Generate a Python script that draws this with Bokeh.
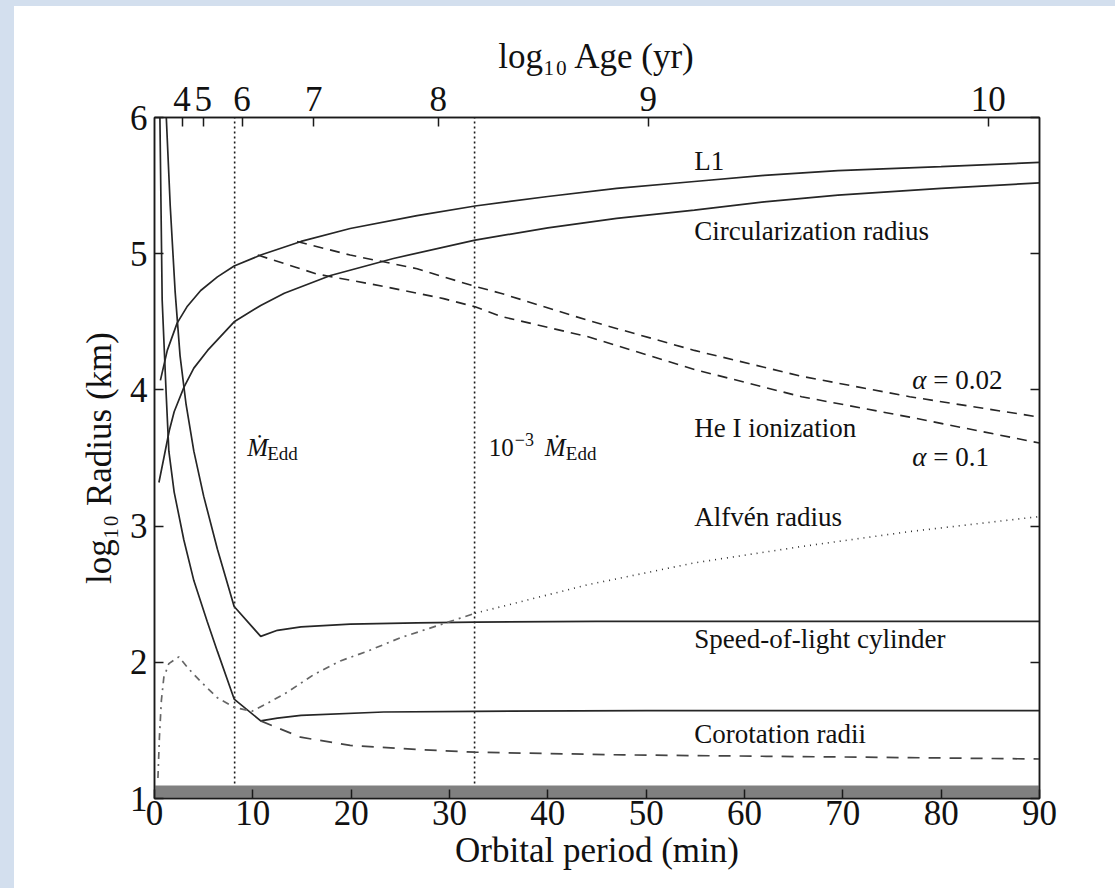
from bokeh.plotting import figure
from bokeh.models import LinearAxis, Range1d, FixedTicker, Label
from bokeh.embed import file_html
from bokeh.resources import INLINE

# ---------------- data ----------------
period_ticks = [0, 10, 20, 30, 40, 50, 60, 70, 80, 90]
radius_ticks = [1, 2, 3, 4, 5, 6]
age_tick_period = [2.8, 4.95, 8.9, 16.2, 28.85, 50.2, 84.8]
age_tick_labels = ["4", "5", "6", "7", "8", "9", "10"]

l1_period = [0.6, 1.3, 2.3, 3.3, 4.7, 6.4, 8.1, 10.8, 14.9, 19.9, 26.7, 32.6, 40.0, 47.0, 54.9, 62.0, 69.5, 80.0, 90.0]
l1_radius = [4.07, 4.29, 4.49, 4.61, 4.73, 4.83, 4.91, 4.99, 5.09, 5.185, 5.28, 5.35, 5.42, 5.48, 5.53, 5.575, 5.61, 5.64, 5.67]

circ_period = [0.45, 0.95, 1.5, 2.0, 3.0, 4.0, 5.4, 8.1, 10.8, 13.2, 17.9, 24.3, 32.6, 40.0, 47.0, 54.9, 62.0, 69.5, 80.0, 90.0]
circ_radius = [3.32, 3.50, 3.70, 3.84, 4.02, 4.16, 4.29, 4.50, 4.62, 4.71, 4.84, 4.965, 5.10, 5.19, 5.26, 5.32, 5.38, 5.43, 5.48, 5.52]

he_a002_period = [14.5, 19.9, 26.7, 29.4, 32.6, 35.2, 44.1, 54.9, 65.8, 76.8, 90.0]
he_a002_radius = [5.09, 4.99, 4.89, 4.83, 4.76, 4.71, 4.51, 4.29, 4.10, 3.95, 3.80]

he_a01_period = [10.5, 16.55, 23.3, 29.4, 32.6, 35.2, 44.1, 54.9, 65.8, 76.8, 90.0]
he_a01_radius = [4.99, 4.85, 4.76, 4.67, 4.61, 4.54, 4.39, 4.15, 3.95, 3.80, 3.61]

lc_period = [1.2, 1.6, 2.1, 2.6, 3.2, 4.0, 5.0, 6.4, 8.1, 10.8, 12.5, 14.9, 19.9, 26.7, 32.6, 45.0, 60.0, 75.0, 90.0]
lc_radius = [6.0, 5.35, 4.72, 4.25, 3.90, 3.55, 3.22, 2.83, 2.41, 2.19, 2.235, 2.26, 2.28, 2.29, 2.295, 2.30, 2.30, 2.30, 2.30]

co_period = [0.55, 0.78, 0.95, 1.2, 1.46, 2.0, 2.98, 4.0, 5.36, 6.4, 8.1, 10.8, 12.5, 14.9, 23.3, 32.6, 50.0, 70.0, 90.0]
co_radius = [6.0, 4.66, 4.37, 3.95, 3.55, 3.25, 2.90, 2.60, 2.30, 2.08, 1.73, 1.57, 1.59, 1.61, 1.635, 1.64, 1.645, 1.645, 1.645]

co2_period = [10.8, 14.85, 19.9, 26.7, 32.6, 47.7, 62.2, 76.8, 90.0]
co2_radius = [1.57, 1.45, 1.39, 1.36, 1.34, 1.32, 1.31, 1.30, 1.29]

alf_early_period = [0.35, 0.5, 0.7, 0.95, 1.46, 2.47, 3.5, 4.68, 6.38, 8.1, 9.9, 11.5, 13.5, 16.2, 18.9, 21.6, 25.0, 28.4, 32.6]
alf_early_radius = [1.15, 1.45, 1.72, 1.89, 1.99, 2.04, 1.95, 1.86, 1.74, 1.67, 1.64, 1.70, 1.78, 1.91, 2.01, 2.08, 2.18, 2.26, 2.36]

alf_late_period = [32.6, 44.1, 54.9, 65.8, 76.8, 90.0]
alf_late_radius = [2.36, 2.57, 2.73, 2.85, 2.96, 3.07]

mdot_period = [8.15, 32.55]
band_left, band_right, band_bottom, band_top = [0], [90], [1.0], [1.095]

SERIF = "Liberation Serif"
INK = "#1a1a1a"

p = figure(width=1115, height=888, x_range=Range1d(0, 90), y_range=Range1d(1, 6),
           output_backend="svg", toolbar_location=None,
           min_border_left=154, min_border_right=76, min_border_top=117, min_border_bottom=90)
p.grid.visible = False
p.background_fill_color = "white"
p.border_fill_alpha = 0.0  # let the page-edge shading below show through
p.outline_line_color = INK
p.outline_line_width = 1.5
p.styles = {
    "background-color": "#ffffff",
    "box-shadow": "inset 14px 6px 0px 0px #d3dfee",
    "overflow": "hidden",
}


def style_axis(ax, size="35px"):
    ax.major_tick_in = 9
    ax.major_tick_out = 0
    ax.minor_tick_line_color = None
    ax.axis_line_color = INK
    ax.axis_line_width = 1.5
    ax.major_tick_line_color = INK
    ax.major_tick_line_width = 1.5
    ax.major_label_text_font = SERIF
    ax.major_label_text_font_size = size
    ax.major_label_text_color = "#111111"
    ax.axis_label_text_font = SERIF
    ax.axis_label_text_font_size = "35px"
    ax.axis_label_text_font_style = "normal"
    ax.axis_label_text_color = "#111111"


xa = p.xaxis[0]
xa.ticker = FixedTicker(ticks=period_ticks)
xa.axis_label = "Orbital period (min)"
style_axis(xa)
xa.major_label_standoff = 2
xa.axis_label_standoff = 3

ya = p.yaxis[0]
ya.ticker = FixedTicker(ticks=radius_ticks)
ya.axis_label = "log₁₀ Radius (km)"
style_axis(ya)
ya.major_label_standoff = 7
ya.axis_label_standoff = 8

ra = LinearAxis(ticker=FixedTicker(ticks=radius_ticks))
style_axis(ra)
ra.major_label_text_color = None
p.add_layout(ra, "right")

ta = LinearAxis(ticker=FixedTicker(ticks=age_tick_period),
                major_label_overrides={float(k): v for k, v in zip(age_tick_period, age_tick_labels)},
                axis_label="log₁₀ Age (yr)")
style_axis(ta)
ta.major_label_standoff = 7
ta.axis_label_standoff = 8
p.add_layout(ta, "above")

# vertical accretion-rate markers
p.segment(x0=mdot_period, y0=[1, 1], x1=mdot_period, y1=[6, 6],
          line_color=INK, line_width=1.6, line_dash="2 3")

# curves
solid = dict(line_color="#262626", line_width=1.7)
p.line(l1_period, l1_radius, **solid)
p.line(circ_period, circ_radius, **solid)
p.line(lc_period, lc_radius, **solid)
p.line(co_period, co_radius, **solid)
p.line(he_a002_period, he_a002_radius, line_color="#262626", line_width=1.6, line_dash="10 7")
p.line(he_a01_period, he_a01_radius, line_color="#262626", line_width=1.6, line_dash="10 7")
p.line(co2_period, co2_radius, line_color="#444444", line_width=1.7, line_dash="12 9")
p.line(alf_early_period, alf_early_radius, line_color="#666666", line_width=1.7, line_dash="7 5 2 5")
p.line(alf_late_period, alf_late_radius, line_color="#2e2e2e", line_width=1.6, line_dash="1 5")

# grey band at the bottom
p.quad(left=band_left, right=band_right, bottom=band_bottom, top=band_top,
       fill_color="#808080", line_color=None)

# text annotations


def lab(x, y, text, size="27px", style="normal", xo=0, yo=0):
    p.add_layout(Label(x=x, y=y, text=text, x_offset=xo, y_offset=yo,
                       text_font=SERIF, text_font_size=size, text_font_style=style,
                       text_color="#111111", text_baseline="middle", text_align="left"))


lab(54.9, 5.68, "L1")
lab(54.9, 5.17, "Circularization radius")
lab(77.05, 4.07, "α", style="italic")
lab(77.05, 4.07, "= 0.02", xo=21)
lab(54.9, 3.72, "He I ionization")
lab(77.05, 3.51, "α", style="italic")
lab(77.05, 3.51, "= 0.1", xo=21)
lab(54.9, 3.07, "Alfvén radius")
lab(54.9, 2.17, "Speed-of-light cylinder")
lab(54.9, 1.47, "Corotation radii")

lab(9.43, 3.58, "Ṁ", size="25px", style="italic")
lab(9.43, 3.58, "Edd", size="19px", xo=20, yo=-6)
lab(34.0, 3.58, "10", size="25px")
lab(34.0, 3.58, "−3", size="18px", xo=26, yo=8)
lab(34.0, 3.58, "Ṁ", size="25px", style="italic", xo=56)
lab(34.0, 3.58, "Edd", size="19px", xo=77, yo=-6)

open("out.html", "w").write(file_html(p, INLINE))
